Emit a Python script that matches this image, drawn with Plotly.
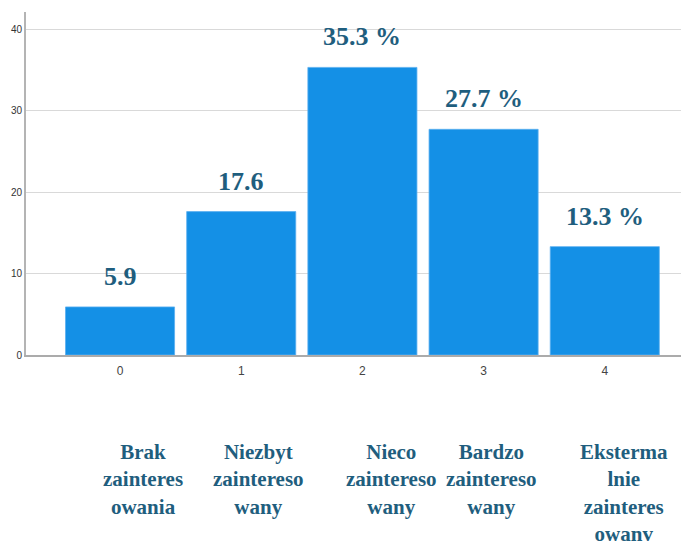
import plotly.graph_objects as go

categories = [0, 1, 2, 3, 4]
values = [5.9, 17.6, 35.3, 27.7, 13.3]
value_labels = ["5.9", "17.6", "35.3 %", "27.7 %", "13.3 %"]
bottom_labels = [
    "Brak<br>zainteres<br>owania",
    "Niezbyt<br>zaintereso<br>wany",
    "Nieco<br>zaintereso<br>wany",
    "Bardzo<br>zaintereso<br>wany",
    "Eksterma<br>lnie<br>zainteres<br>owanv",
]
y_ticks = [0, 10, 20, 30, 40]

# layout positions (x data coords) for the bottom text blocks
bottom_x = [0.186, 1.139, 2.244, 3.069, 4.158]

text_color = "#1f5e7e"
serif = "Liberation Serif, Times New Roman, serif"

fig = go.Figure()
fig.add_trace(go.Bar(
    x=categories, y=values,
    marker=dict(color="#1490e6", line=dict(color="#5aaef0", width=0.8)),
    width=0.9,
    hoverinfo="skip",
))

annotations = []
for c, v, t in zip(categories, values, value_labels):
    annotations.append(dict(
        x=c, y=v, xref="x", yref="y", text=t, showarrow=False,
        yanchor="bottom", yshift=14,
        font=dict(family=serif, size=26, color=text_color, weight="bold"),
    ))
for bx, t in zip(bottom_x, bottom_labels):
    annotations.append(dict(
        x=bx, y=-0.243, xref="x", yref="paper", text=t, showarrow=False,
        yanchor="top", xanchor="center", align="center",
        font=dict(family=serif, size=21, color=text_color, weight="bold"),
    ))

# the page body adds an 8px offset, so the figure is 8px smaller each way
fig.update_layout(
    width=681, height=534,
    margin=dict(l=18, r=0, t=4, b=187, autoexpand=False),
    plot_bgcolor="white", paper_bgcolor="white",
    showlegend=False,
    annotations=annotations,
    xaxis=dict(
        range=[-0.776, 4.695], tickmode="array", tickvals=categories,
        ticktext=[str(c) for c in categories],
        showgrid=False, zeroline=False, automargin=False,
        showline=True, linecolor="#ababab", linewidth=2,
        ticks="outside", ticklen=4, tickcolor="rgba(0,0,0,0)",
        tickfont=dict(family="Liberation Sans, Arial, sans-serif", size=12, color="#444"),
    ),
    yaxis=dict(
        range=[0, 42.1], tickmode="array", tickvals=y_ticks,
        showgrid=True, gridcolor="#d9d9d9", gridwidth=1,
        zeroline=False, automargin=False,
        showline=True, linecolor="#b4b4b4", linewidth=2,
        ticks="", ticklabelstandoff=0,
        tickfont=dict(family="Liberation Sans, Arial, sans-serif", size=10, color="#333"),
    ),
)

fig.write_html("out.html")
